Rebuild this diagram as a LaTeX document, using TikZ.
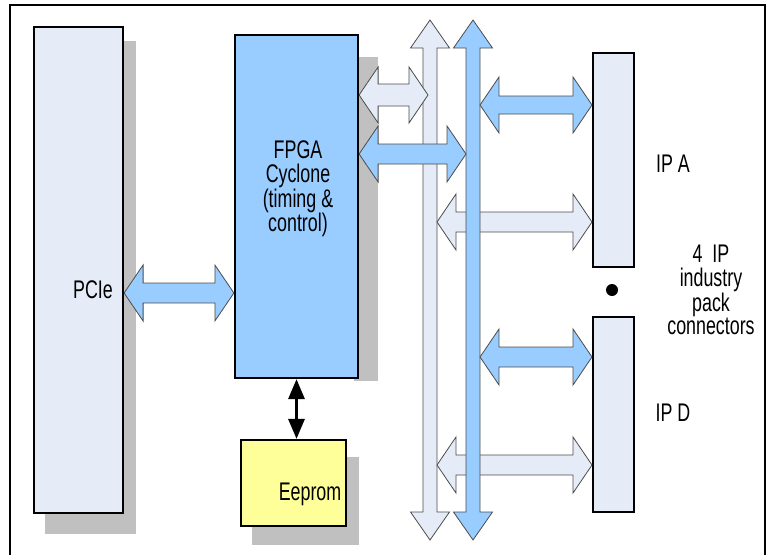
\documentclass[tikz,border=0pt]{standalone}
\usepackage{fontspec}
\setmainfont[FakeStretch=0.7]{Liberation Sans}
\usepackage{xcolor}
\definecolor{pale}{RGB}{230,236,247}
\definecolor{sky}{RGB}{153,204,255}
\definecolor{lemon}{RGB}{255,255,153}
\definecolor{shadowgray}{RGB}{192,192,192}
\usepackage{tikz}
\usetikzlibrary{arrows.meta,positioning,calc,backgrounds}
\tikzset{
  blk/.style={draw=black,line width=2.2pt,inner sep=0pt},
  lbl/.style={font=\fontsize{25.5}{23.5}\selectfont,align=center,inner sep=0pt},
  fat/.style={draw=black!70,line width=0.8pt,line join=miter},
}
% fat double arrow: style, from, to, half shaft, half head, head length
\newcommand\fatarrow[6]{%
  \coordinate (fa1) at ($(#2)!#6!(#3)$);
  \coordinate (fa2) at ($(#3)!#6!(#2)$);
  \draw[fat,#1] (#2) -- ($(fa1)!#5!90:(#3)$) -- ($(fa1)!#4!90:(#3)$)
    -- ($(fa2)!#4!-90:(#2)$) -- ($(fa2)!#5!-90:(#2)$) -- (#3)
    -- ($(fa2)!#5!90:(#2)$) -- ($(fa2)!#4!90:(#2)$)
    -- ($(fa1)!#4!-90:(#3)$) -- ($(fa1)!#5!-90:(#3)$) -- cycle;}

\begin{document}
\begin{tikzpicture}[x=1pt,y=-1pt]
\useasboundingbox (0,0) rectangle (773,554);
\draw[line width=2pt] (10,5) rectangle (765,580);

% blocks
\node[blk,fill=pale,minimum width=89,minimum height=486] (pcie) at (78.5,270) {};
\node[blk,fill=sky,minimum width=123,minimum height=343] (fpga) at (296.5,206.5) {};
\node[blk,fill=lemon,minimum width=105,minimum height=86] (eeprom) at (293.5,483) {};
\node[blk,fill=pale,line width=2pt,minimum width=41,minimum height=214] (ipa) at (613.5,160) {};
\node[blk,fill=pale,line width=2pt,minimum width=41,minimum height=195] (ipd) at (613.5,414.5) {};
\begin{scope}[on background layer]
  \fill[shadowgray] ($(pcie.north west)+(12,15)$) rectangle ($(pcie.south east)+(12,20)$);
  \fill[shadowgray] ($(fpga.north east)+(-5,23)$) rectangle ($(fpga.south east)+(19,2)$);
  \fill[shadowgray] ($(eeprom.north west)+(12,18)$) rectangle ($(eeprom.south east)+(12,18)$);
\end{scope}

% bus ends
\coordinate (lb1) at (430,20);  \coordinate (lb2) at (430,540);
\coordinate (bb1) at (473,20);  \coordinate (bb2) at (473,540);
\coordinate (lbA) at (428,95);  \coordinate (bbA) at (466,154);
\coordinate (lbB) at (437,222); \coordinate (lbD) at (437,465);
\coordinate (bbB) at (480,105); \coordinate (bbD) at (480,357);

% buses and links
\fatarrow{fill=pale}{lb1}{lb2}{7pt}{19.5pt}{28pt}
\fatarrow{fill=pale}{lbB}{ipa.west |- lbB}{10pt}{28pt}{19pt}
\fatarrow{fill=pale}{lbD}{ipd.west |- lbD}{10pt}{28pt}{19pt}
\fatarrow{fill=sky}{bb1}{bb2}{7pt}{19.5pt}{28pt}
\fatarrow{fill=pale}{fpga.east |- lbA}{lbA}{11pt}{28pt}{19pt}
\fatarrow{fill=sky}{fpga.east |- bbA}{bbA}{10pt}{28pt}{19pt}
\fatarrow{fill=sky}{bbB}{ipa.west |- bbB}{9pt}{28pt}{19pt}
\fatarrow{fill=sky}{bbD}{ipd.west |- bbD}{10pt}{28pt}{19pt}
\fatarrow{fill=sky}{pcie.east |- 0,293}{fpga.west |- 0,293}{10pt}{28pt}{19pt}
\draw[{Triangle[width=16pt,length=20pt]}-{Triangle[width=16pt,length=20pt]},line width=3pt]
  (fpga.south) -- (fpga.south |- eeprom.north);
\node[circle,fill=black,minimum size=12pt,inner sep=0pt] (dot) at (612,290) {};

% texts
\node[lbl] (pcietxt) at (93,290) {PCIe};
\node[lbl] (fpgatxt) at (298,189) {FPGA\\Cyclone\\(timing \&\\control)};
\node[lbl] (eepromtxt) at (310,494) {Eeprom};
\node[lbl] (ipatxt) at (673,164) {IP A};
\node[lbl] (ipdtxt) at (673,413) {IP D};
\node[lbl] (iptxt) at (711,290) {4\ \ IP\\industry\\pack\\connectors};
\end{tikzpicture}
\end{document}
